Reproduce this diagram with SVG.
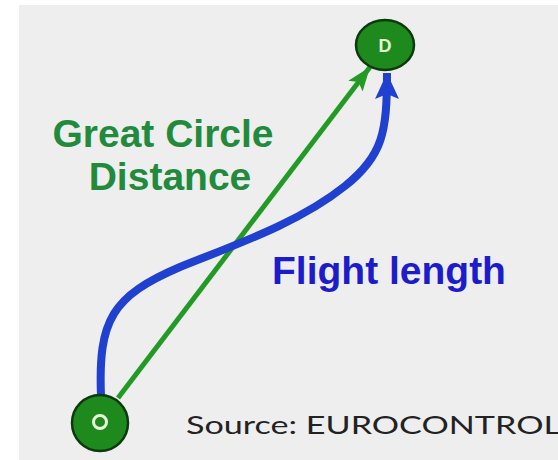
<svg xmlns="http://www.w3.org/2000/svg" width="558" height="460" viewBox="0 0 558 460">
  <defs>
    <style>
      .lbl { font-family: "Liberation Sans", Arial, sans-serif; font-weight: bold; }
      .node { fill: #1e8a1e; stroke: #0c3a0e; stroke-width: 2.5; }
      .nlbl { font-family: "Liberation Sans", Arial, sans-serif; font-weight: bold; font-size: 18px; fill: #e8f5d8; text-anchor: middle; }
    </style>
    <marker id="ah-green" markerUnits="userSpaceOnUse" markerWidth="26" markerHeight="20" refX="24" refY="9" orient="auto" viewBox="0 0 26 20">
      <path d="M0,0 L24,9 L0,18 L5,9 z" fill="#239a26"/>
    </marker>
    <marker id="ah-blue" markerUnits="userSpaceOnUse" markerWidth="28" markerHeight="26" refX="26" refY="12" orient="auto" viewBox="0 0 28 26">
      <path d="M0,0 L26,12 L0,24 L5,12 z" fill="#2040d0"/>
    </marker>
  </defs>
  <rect x="0" y="0" width="558" height="460" fill="#ffffff"/>
  <rect x="19" y="5" width="539" height="455" fill="#eeeeee"/>

  <g id="connectors">
    <line x1="118" y1="398" x2="370" y2="67" stroke="#239a26" stroke-width="5" marker-end="url(#ah-green)"/>
    <path d="M101,396 C98,320 112,296 180,267 C240,243 300,222 345,186 C383,156 387,132 387,73" fill="none" stroke="#2040d0" stroke-width="8" marker-end="url(#ah-blue)"/>
  </g>

  <g id="node-D">
    <ellipse class="node" cx="385" cy="45" rx="29" ry="25"/>
    <text class="nlbl" x="385" y="52">D</text>
  </g>
  <g id="node-O">
    <circle class="node" cx="100" cy="423" r="28"/>
    <circle cx="100" cy="422" r="6.5" fill="none" stroke="#e8f5d8" stroke-width="3"/>
  </g>

  <g id="label-gcd">
    <text class="lbl" x="163" y="147" font-size="39" fill="#218a3c" text-anchor="middle">Great Circle</text>
    <text class="lbl" x="170" y="190" font-size="39" fill="#218a3c" text-anchor="middle">Distance</text>
  </g>
  <g id="label-flight">
    <text class="lbl" x="272" y="284" font-size="39" fill="#1c1ccc">Flight length</text>
  </g>
  <g id="label-source">
    <text x="186" y="434" font-family="Lato, 'Open Sans', sans-serif" font-size="25" fill="#222222" textLength="375" lengthAdjust="spacingAndGlyphs">Source: EUROCONTROL</text>
  </g>
</svg>
